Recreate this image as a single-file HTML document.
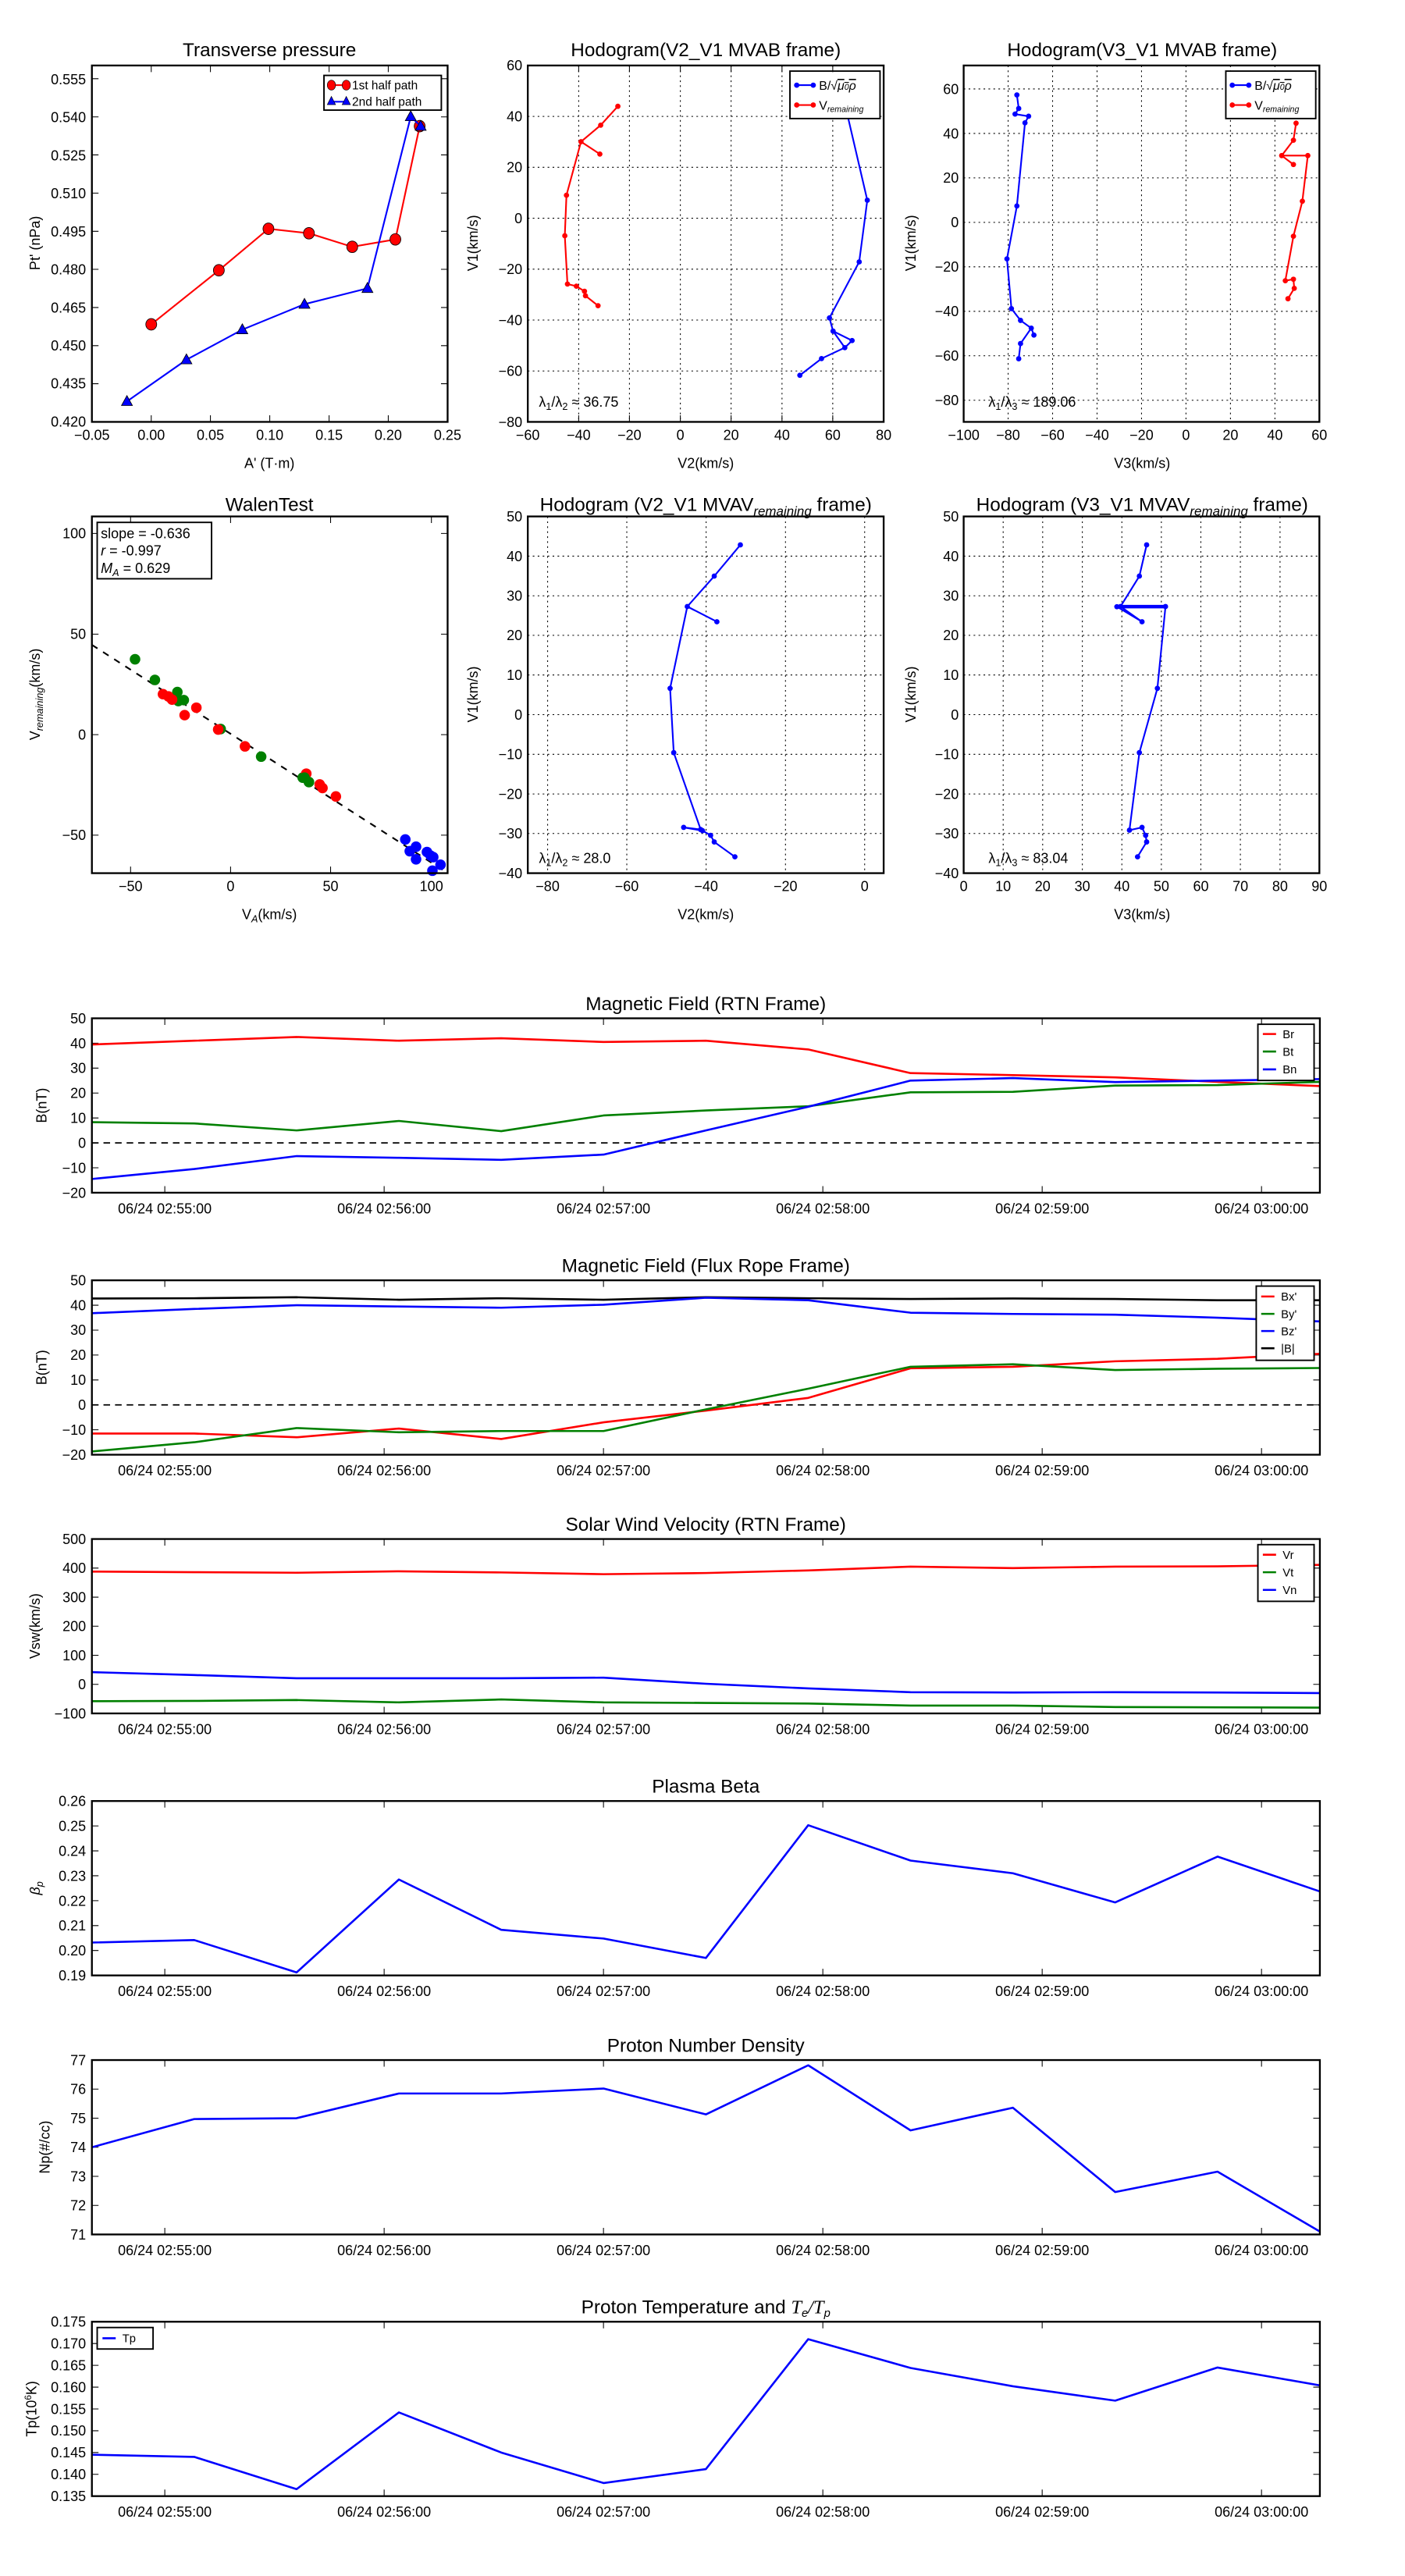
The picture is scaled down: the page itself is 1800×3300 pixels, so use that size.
<!DOCTYPE html>
<html><head><meta charset="utf-8"><style>
html,body{margin:0;padding:0;background:#fff;}
svg{display:block;font-family:"Liberation Sans",sans-serif;}
.tl{font-size:8.5px;}
.tt{font-size:11.5px;text-anchor:middle;}
.al{font-size:8.5px;text-anchor:middle;}
.fr{fill:none;stroke:#000;stroke-width:1.1;}
.tk{stroke:#000;stroke-width:0.5;fill:none;}
.gd{stroke:#000;stroke-width:0.5;stroke-dasharray:1,2;fill:none;}
.ln{fill:none;vector-effect:non-scaling-stroke;stroke-width:2.6;stroke-linejoin:round;}
.r{text-anchor:end;}
.m{text-anchor:middle;}
</style></head><body>
<svg width="1800" height="3300" viewBox="0 0 850 1558.3" xmlns="http://www.w3.org/2000/svg">
<rect x="0" y="0" width="850" height="1558.3" fill="#fff"/>

<!-- ========== P1 Transverse pressure ========== -->
<text class="tt" x="163" y="34">Transverse pressure</text>
<path class="tk" d="M91.5 255.2v-4M127.3 255.2v-4M163.2 255.2v-4M199.1 255.2v-4M234.9 255.2v-4M91.5 39.6v4M127.3 39.6v4M163.2 39.6v4M199.1 39.6v4M234.9 39.6v4
M55.6 232.1h4M55.6 209.1h4M55.6 186h4M55.6 162.9h4M55.6 139.9h4M55.6 116.8h4M55.6 93.7h4M55.6 70.7h4M55.6 47.6h4
M270.8 232.1h-4M270.8 209.1h-4M270.8 186h-4M270.8 162.9h-4M270.8 139.9h-4M270.8 116.8h-4M270.8 93.7h-4M270.8 70.7h-4M270.8 47.6h-4"/>
<g class="tl r">
<text x="52" y="258">0.420</text><text x="52" y="235">0.435</text><text x="52" y="212">0.450</text><text x="52" y="189">0.465</text><text x="52" y="166">0.480</text><text x="52" y="143">0.495</text><text x="52" y="120">0.510</text><text x="52" y="97">0.525</text><text x="52" y="74">0.540</text><text x="52" y="51">0.555</text>
</g>
<g class="tl m">
<text x="55.6" y="266">−0.05</text><text x="91.5" y="266">0.00</text><text x="127.3" y="266">0.05</text><text x="163.2" y="266">0.10</text><text x="199.1" y="266">0.15</text><text x="234.9" y="266">0.20</text><text x="270.8" y="266">0.25</text>
</g>
<text class="al" x="163" y="283">A' (T·m)</text>
<text class="al" transform="translate(24,147) rotate(-90)">Pt' (nPa)</text>
<polyline fill="none" stroke="#f00" stroke-width="1" points="91.5,196.2 132.4,163.5 162.4,138.4 186.9,141.1 213.1,149.3 239.2,144.8 253.9,76.3"/>
<g fill="#f00" stroke="#000" stroke-width="0.4">
<ellipse cx="91.5" cy="196.2" rx="3.3" ry="3.5"/><ellipse cx="132.4" cy="163.5" rx="3.3" ry="3.5"/><ellipse cx="162.4" cy="138.4" rx="3.3" ry="3.5"/><ellipse cx="186.9" cy="141.1" rx="3.3" ry="3.5"/><ellipse cx="213.1" cy="149.3" rx="3.3" ry="3.5"/><ellipse cx="239.2" cy="144.8" rx="3.3" ry="3.5"/><ellipse cx="253.9" cy="76.3" rx="3.3" ry="3.5"/>
</g>
<polyline fill="none" stroke="#00f" stroke-width="1" points="76.8,242.8 112.8,217.6 146.6,199.4 184.2,184 222.3,174.4 248.5,70.5 254.5,76.3"/>
<g fill="#00f" stroke="#000" stroke-width="0.4">
<path d="M76.8 239.3l3.3 6h-6.6z"/><path d="M112.8 214.1l3.3 6h-6.6z"/><path d="M146.6 195.9l3.3 6h-6.6z"/><path d="M184.2 180.5l3.3 6h-6.6z"/><path d="M222.3 170.9l3.3 6h-6.6z"/><path d="M248.5 67l3.3 6h-6.6z"/><path d="M254.5 72.8l3.3 6h-6.6z"/>
</g>
<rect x="196" y="45.6" width="71" height="21" fill="#fff" stroke="#000" stroke-width="0.9"/>
<line x1="199" y1="51.5" x2="211" y2="51.5" stroke="#f00" stroke-width="1"/>
<ellipse cx="200.5" cy="51.5" rx="2.5" ry="3" fill="#f00" stroke="#000" stroke-width="0.3"/><ellipse cx="209.5" cy="51.5" rx="2.5" ry="3" fill="#f00" stroke="#000" stroke-width="0.3"/>
<text x="213" y="54" style="font-size:7.3px">1st half path</text>
<line x1="199" y1="61.5" x2="211" y2="61.5" stroke="#00f" stroke-width="1"/>
<path d="M200.5 58.3l2.5 5h-5zM209.5 58.3l2.5 5h-5z" fill="#00f" stroke="#000" stroke-width="0.3"/>
<text x="213" y="64" style="font-size:7.3px">2nd half path</text>
<rect class="fr" x="55.6" y="39.6" width="215.2" height="215.6"/>

<!-- ========== P2 Hodogram V2_V1 MVAB ========== -->
<text class="tt" x="427" y="34">Hodogram(V2_V1 MVAB frame)</text>
<path class="gd" d="M350.1 39.6V255.2M380.8 39.6V255.2M411.6 39.6V255.2M442.3 39.6V255.2M473.1 39.6V255.2M503.8 39.6V255.2
M319.3 70.4H534.6M319.3 101.2H534.6M319.3 132H534.6M319.3 162.8H534.6M319.3 193.6H534.6M319.3 224.4H534.6"/>
<g class="tl r">
<text x="316" y="42.6">60</text><text x="316" y="73.4">40</text><text x="316" y="104.2">20</text><text x="316" y="135">0</text><text x="316" y="165.8">−20</text><text x="316" y="196.6">−40</text><text x="316" y="227.4">−60</text><text x="316" y="258.2">−80</text>
</g>
<g class="tl m">
<text x="319.3" y="266">−60</text><text x="350.1" y="266">−40</text><text x="380.8" y="266">−20</text><text x="411.6" y="266">0</text><text x="442.3" y="266">20</text><text x="473.1" y="266">40</text><text x="503.8" y="266">60</text><text x="534.6" y="266">80</text>
</g>
<text class="al" x="427" y="283">V2(km/s)</text>
<text class="al" transform="translate(289,147) rotate(-90)">V1(km/s)</text>
<polyline fill="none" stroke="#f00" stroke-width="1" points="373.8,64.3 363.4,75.7 351.5,85.7 362.9,93.2 351.5,85.7 342.7,118.1 341.7,142.6 343.3,171.8 348.7,173.1 353.6,176.2 354.2,178.9 361.8,184.9"/>
<g fill="#f00"><circle cx="373.8" cy="64.3" r="1.6"/><circle cx="363.4" cy="75.7" r="1.6"/><circle cx="351.5" cy="85.7" r="1.6"/><circle cx="362.9" cy="93.2" r="1.6"/><circle cx="342.7" cy="118.1" r="1.6"/><circle cx="341.7" cy="142.6" r="1.6"/><circle cx="343.3" cy="171.8" r="1.6"/><circle cx="348.7" cy="173.1" r="1.6"/><circle cx="353.6" cy="176.2" r="1.6"/><circle cx="354.2" cy="178.9" r="1.6"/><circle cx="361.8" cy="184.9" r="1.6"/></g>
<polyline fill="none" stroke="#00f" stroke-width="1" points="511.1,62.7 524.7,121.1 519.8,158.4 501.8,192.3 504,200.3 515.5,206 511.1,210.3 504,200.3 511.1,210.3 497,216.9 483.9,227"/>
<g fill="#00f"><circle cx="524.7" cy="121.1" r="1.6"/><circle cx="519.8" cy="158.4" r="1.6"/><circle cx="501.8" cy="192.3" r="1.6"/><circle cx="504" cy="200.3" r="1.6"/><circle cx="515.5" cy="206" r="1.6"/><circle cx="511.1" cy="210.3" r="1.6"/><circle cx="497" cy="216.9" r="1.6"/><circle cx="483.9" cy="227" r="1.6"/></g>
<text x="326" y="246" style="font-size:8.5px">λ<tspan style="font-size:6px" dy="2">1</tspan><tspan dy="-2">/λ</tspan><tspan style="font-size:6px" dy="2">2</tspan><tspan dy="-2"> ≈ 36.75</tspan></text>
<rect x="477.9" y="43" width="54.5" height="28.7" fill="#fff" stroke="#000" stroke-width="0.9"/>
<line x1="481.5" y1="51.5" x2="492.5" y2="51.5" stroke="#00f" stroke-width="1"/><circle cx="482" cy="51.5" r="1.6" fill="#00f"/><circle cx="492" cy="51.5" r="1.6" fill="#00f"/>
<text x="495.5" y="54.3" style="font-size:7.5px">B/√<tspan style="font-style:italic;text-decoration:overline">μ<tspan style="font-size:5px">0</tspan>ρ</tspan></text>
<line x1="481.5" y1="63.5" x2="492.5" y2="63.5" stroke="#f00" stroke-width="1"/><circle cx="482" cy="63.5" r="1.6" fill="#f00"/><circle cx="492" cy="63.5" r="1.6" fill="#f00"/>
<text x="495.5" y="66.3" style="font-size:7.5px">V<tspan style="font-size:5px;font-style:italic" dy="1.5">remaining</tspan></text>
<path class="tk" d="M350.1 255.2v-4M380.8 255.2v-4M411.6 255.2v-4M442.3 255.2v-4M473.1 255.2v-4M503.8 255.2v-4M350.1 39.6v4M380.8 39.6v4M411.6 39.6v4M442.3 39.6v4M473.1 39.6v4M503.8 39.6v4"/>
<rect class="fr" x="319.3" y="39.6" width="215.3" height="215.6"/>

<!-- ========== P3 Hodogram V3_V1 MVAB ========== -->
<text class="tt" x="691" y="34">Hodogram(V3_V1 MVAB frame)</text>
<path class="gd" d="M609.9 39.6V255.2M636.8 39.6V255.2M663.7 39.6V255.2M690.6 39.6V255.2M717.5 39.6V255.2M744.4 39.6V255.2M771.3 39.6V255.2
M583 53.8H798.2M583 80.7H798.2M583 107.6H798.2M583 134.5H798.2M583 161.4H798.2M583 188.3H798.2M583 215.2H798.2M583 242.1H798.2"/>
<g class="tl r">
<text x="580" y="56.8">60</text><text x="580" y="83.7">40</text><text x="580" y="110.6">20</text><text x="580" y="137.5">0</text><text x="580" y="164.4">−20</text><text x="580" y="191.3">−40</text><text x="580" y="218.2">−60</text><text x="580" y="245.1">−80</text>
</g>
<g class="tl m">
<text x="583" y="266">−100</text><text x="609.9" y="266">−80</text><text x="636.8" y="266">−60</text><text x="663.7" y="266">−40</text><text x="690.6" y="266">−20</text><text x="717.5" y="266">0</text><text x="744.4" y="266">20</text><text x="771.3" y="266">40</text><text x="798.2" y="266">60</text>
</g>
<text class="al" x="691" y="283">V3(km/s)</text>
<text class="al" transform="translate(554,147) rotate(-90)">V1(km/s)</text>
<polyline fill="none" stroke="#00f" stroke-width="1" points="615.2,57.4 616.3,65.6 614.1,69 622.3,70.3 620.1,74.3 615.2,124.6 609.2,156.6 611.9,186.7 617.4,193.8 623.9,198.5 625.5,202.7 623.9,198.5 617.4,207.8 616.3,217"/>
<g fill="#00f"><circle cx="615.2" cy="57.4" r="1.6"/><circle cx="616.3" cy="65.6" r="1.6"/><circle cx="614.1" cy="69" r="1.6"/><circle cx="622.3" cy="70.3" r="1.6"/><circle cx="620.1" cy="74.3" r="1.6"/><circle cx="615.2" cy="124.6" r="1.6"/><circle cx="609.2" cy="156.6" r="1.6"/><circle cx="611.9" cy="186.7" r="1.6"/><circle cx="617.4" cy="193.8" r="1.6"/><circle cx="623.9" cy="198.5" r="1.6"/><circle cx="625.5" cy="202.7" r="1.6"/><circle cx="617.4" cy="207.8" r="1.6"/><circle cx="616.3" cy="217" r="1.6"/></g>
<polyline fill="none" stroke="#f00" stroke-width="1" points="784.1,74.5 782.5,84.8 775.4,94.1 782.5,99.5 775.4,94.1 791.2,94.1 787.9,121.7 782.5,142.9 777.6,169.8 782.5,168.9 783,174.4 779.2,180.7"/>
<g fill="#f00"><circle cx="784.1" cy="74.5" r="1.6"/><circle cx="782.5" cy="84.8" r="1.6"/><circle cx="775.4" cy="94.1" r="1.6"/><circle cx="782.5" cy="99.5" r="1.6"/><circle cx="791.2" cy="94.1" r="1.6"/><circle cx="787.9" cy="121.7" r="1.6"/><circle cx="782.5" cy="142.9" r="1.6"/><circle cx="777.6" cy="169.8" r="1.6"/><circle cx="782.5" cy="168.9" r="1.6"/><circle cx="783" cy="174.4" r="1.6"/><circle cx="779.2" cy="180.7" r="1.6"/></g>
<text x="598" y="246" style="font-size:8.5px">λ<tspan style="font-size:6px" dy="2">1</tspan><tspan dy="-2">/λ</tspan><tspan style="font-size:6px" dy="2">3</tspan><tspan dy="-2"> ≈ 189.06</tspan></text>
<rect x="741.6" y="43" width="54.4" height="28.7" fill="#fff" stroke="#000" stroke-width="0.9"/>
<line x1="745" y1="51.5" x2="756" y2="51.5" stroke="#00f" stroke-width="1"/><circle cx="745.5" cy="51.5" r="1.6" fill="#00f"/><circle cx="755.5" cy="51.5" r="1.6" fill="#00f"/>
<text x="759" y="54.3" style="font-size:7.5px">B/√<tspan style="font-style:italic;text-decoration:overline">μ<tspan style="font-size:5px">0</tspan>ρ</tspan></text>
<line x1="745" y1="63.5" x2="756" y2="63.5" stroke="#f00" stroke-width="1"/><circle cx="745.5" cy="63.5" r="1.6" fill="#f00"/><circle cx="755.5" cy="63.5" r="1.6" fill="#f00"/>
<text x="759" y="66.3" style="font-size:7.5px">V<tspan style="font-size:5px;font-style:italic" dy="1.5">remaining</tspan></text>
<rect class="fr" x="583" y="39.6" width="215.2" height="215.6"/>

<!-- ========== P4 WalenTest ========== -->
<text class="tt" x="163" y="309">WalenTest</text>
<path class="tk" d="M79 528.2v-4M139.5 528.2v-4M200 528.2v-4M261 528.2v-4M79 312.4v4M139.5 312.4v4M200 312.4v4M261 312.4v4
M55.6 322.7h4M55.6 383.6h4M55.6 444.4h4M55.6 505.2h4M270.8 322.7h-4M270.8 383.6h-4M270.8 444.4h-4M270.8 505.2h-4"/>
<g class="tl r"><text x="52" y="325.7">100</text><text x="52" y="386.6">50</text><text x="52" y="447.4">0</text><text x="52" y="508.2">−50</text></g>
<g class="tl m"><text x="79" y="539">−50</text><text x="139.5" y="539">0</text><text x="200" y="539">50</text><text x="261" y="539">100</text></g>
<text class="al" x="163" y="556">V<tspan style="font-size:6px;font-style:italic" dy="2">A</tspan><tspan dy="-2">(km/s)</tspan></text>
<text class="al" transform="translate(24,420) rotate(-90)">V<tspan style="font-size:6px;font-style:italic" dy="2">remaining</tspan><tspan dy="-2">(km/s)</tspan></text>
<line x1="55.6" y1="390.1" x2="270.8" y2="528.1" stroke="#000" stroke-width="1" stroke-dasharray="4,4"/>
<g fill="#008000"><circle cx="81.7" cy="398.8" r="3.2"/><circle cx="93.7" cy="411.3" r="3.2"/><circle cx="107.3" cy="418.6" r="3.2"/><circle cx="107.9" cy="424.1" r="3.2"/><circle cx="111.2" cy="423.5" r="3.2"/><circle cx="133.5" cy="441" r="3.2"/><circle cx="158" cy="457.7" r="3.2"/><circle cx="183.1" cy="470.4" r="3.2"/><circle cx="186.9" cy="473.1" r="3.2"/></g>
<g fill="#f00"><circle cx="98.6" cy="419.9" r="3.2"/><circle cx="101.9" cy="421.3" r="3.2"/><circle cx="104.1" cy="423.2" r="3.2"/><circle cx="118.8" cy="428.1" r="3.2"/><circle cx="111.7" cy="432.6" r="3.2"/><circle cx="132" cy="441.3" r="3.2"/><circle cx="148.2" cy="451.5" r="3.2"/><circle cx="185.3" cy="468" r="3.2"/><circle cx="193.4" cy="474.5" r="3.2"/><circle cx="195.1" cy="476.7" r="3.2"/><circle cx="203.2" cy="481.8" r="3.2"/></g>
<g fill="#008000"><circle cx="184.2" cy="470.4" r="3.2"/><circle cx="186.9" cy="473.1" r="3.2"/></g>
<g fill="#00f"><circle cx="245.2" cy="507.8" r="3.2"/><circle cx="247.9" cy="514.9" r="3.2"/><circle cx="251.7" cy="512.2" r="3.2"/><circle cx="251.7" cy="519.8" r="3.2"/><circle cx="258.3" cy="515.4" r="3.2"/><circle cx="260.5" cy="517.6" r="3.2"/><circle cx="262.1" cy="518.5" r="3.2"/><circle cx="266.5" cy="523.1" r="3.2"/><circle cx="261.6" cy="526.7" r="3.2"/></g>
<rect x="58.8" y="316" width="69.2" height="34.1" fill="#fff" stroke="#000" stroke-width="0.9"/>
<text x="61" y="325.5" style="font-size:8.5px">slope = -0.636</text>
<text x="61" y="336" style="font-size:8.5px"><tspan style="font-style:italic">r</tspan> = -0.997</text>
<text x="61" y="346.5" style="font-size:8.5px"><tspan style="font-style:italic">M</tspan><tspan style="font-size:6px;font-style:italic" dy="2">A</tspan><tspan dy="-2"> = 0.629</tspan></text>
<rect class="fr" x="55.6" y="312.4" width="215.2" height="215.8"/>

<!-- ========== P5 Hodogram V2_V1 MVAV ========== -->
<text class="tt" x="427" y="309">Hodogram (V2_V1 MVAV<tspan style="font-size:8px;font-style:italic" dy="3">remaining</tspan><tspan dy="-3"> frame)</tspan></text>
<path class="gd" d="M331.3 312.4V528.2M379.2 312.4V528.2M427.2 312.4V528.2M475.2 312.4V528.2M523.1 312.4V528.2
M319.3 336.4H534.6M319.3 360.4H534.6M319.3 384.3H534.6M319.3 408.3H534.6M319.3 432.3H534.6M319.3 456.3H534.6M319.3 480.3H534.6M319.3 504.2H534.6"/>
<g class="tl r"><text x="316" y="315.4">50</text><text x="316" y="339.4">40</text><text x="316" y="363.4">30</text><text x="316" y="387.3">20</text><text x="316" y="411.3">10</text><text x="316" y="435.3">0</text><text x="316" y="459.3">−10</text><text x="316" y="483.3">−20</text><text x="316" y="507.2">−30</text><text x="316" y="531.2">−40</text></g>
<g class="tl m"><text x="331.3" y="539">−80</text><text x="379.2" y="539">−60</text><text x="427.2" y="539">−40</text><text x="475.2" y="539">−20</text><text x="523.1" y="539">0</text></g>
<text class="al" x="427" y="556">V2(km/s)</text>
<text class="al" transform="translate(289,420) rotate(-90)">V1(km/s)</text>
<polyline fill="none" stroke="#00f" stroke-width="1" points="447.9,329.6 432.1,348.5 415.8,366.9 433.7,376.1 415.8,366.9 405.4,416.4 407.6,455.3 423.9,501.8 413.6,500.5 425,502.5 429.9,505.3 432.1,509.3 444.6,518.3"/>
<g fill="#00f"><circle cx="447.9" cy="329.6" r="1.6"/><circle cx="432.1" cy="348.5" r="1.6"/><circle cx="415.8" cy="366.9" r="1.6"/><circle cx="433.7" cy="376.1" r="1.6"/><circle cx="405.4" cy="416.4" r="1.6"/><circle cx="407.6" cy="455.3" r="1.6"/><circle cx="423.9" cy="501.8" r="1.6"/><circle cx="413.6" cy="500.5" r="1.6"/><circle cx="425" cy="502.5" r="1.6"/><circle cx="429.9" cy="505.3" r="1.6"/><circle cx="432.1" cy="509.3" r="1.6"/><circle cx="444.6" cy="518.3" r="1.6"/></g>
<text x="326" y="522" style="font-size:8.5px">λ<tspan style="font-size:6px" dy="2">1</tspan><tspan dy="-2">/λ</tspan><tspan style="font-size:6px" dy="2">2</tspan><tspan dy="-2"> ≈ 28.0</tspan></text>
<rect class="fr" x="319.3" y="312.4" width="215.3" height="215.8"/>

<!-- ========== P6 Hodogram V3_V1 MVAV ========== -->
<text class="tt" x="691" y="309">Hodogram (V3_V1 MVAV<tspan style="font-size:8px;font-style:italic" dy="3">remaining</tspan><tspan dy="-3"> frame)</tspan></text>
<path class="gd" d="M606.9 312.4V528.2M630.8 312.4V528.2M654.8 312.4V528.2M678.7 312.4V528.2M702.6 312.4V528.2M726.5 312.4V528.2M750.4 312.4V528.2M774.4 312.4V528.2
M583 336.4H798.2M583 360.4H798.2M583 384.3H798.2M583 408.3H798.2M583 432.3H798.2M583 456.3H798.2M583 480.3H798.2M583 504.2H798.2"/>
<g class="tl r"><text x="580" y="315.4">50</text><text x="580" y="339.4">40</text><text x="580" y="363.4">30</text><text x="580" y="387.3">20</text><text x="580" y="411.3">10</text><text x="580" y="435.3">0</text><text x="580" y="459.3">−10</text><text x="580" y="483.3">−20</text><text x="580" y="507.2">−30</text><text x="580" y="531.2">−40</text></g>
<g class="tl m"><text x="583" y="539">0</text><text x="606.9" y="539">10</text><text x="630.8" y="539">20</text><text x="654.8" y="539">30</text><text x="678.7" y="539">40</text><text x="702.6" y="539">50</text><text x="726.5" y="539">60</text><text x="750.4" y="539">70</text><text x="774.4" y="539">80</text><text x="798.2" y="539">90</text></g>
<text class="al" x="691" y="556">V3(km/s)</text>
<text class="al" transform="translate(554,420) rotate(-90)">V1(km/s)</text>
<polyline fill="none" stroke="#00f" stroke-width="1" points="693.7,329.6 689.3,348.5 677.9,366.9 690.9,376.1 675.7,367 705.1,366.9 700.2,416.4 689.3,455.3 683.3,502.2 690.9,500.5 693.1,505.3 693.7,509.3 688.2,518.3"/>
<path d="M675.7 366.3H705.1M675.7 367.6H705.1" stroke="#00f" stroke-width="0.8"/>
<g fill="#00f"><circle cx="693.7" cy="329.6" r="1.6"/><circle cx="689.3" cy="348.5" r="1.6"/><circle cx="677.9" cy="366.9" r="1.6"/><circle cx="690.9" cy="376.1" r="1.6"/><circle cx="675.7" cy="367" r="1.6"/><circle cx="705.1" cy="366.9" r="1.6"/><circle cx="700.2" cy="416.4" r="1.6"/><circle cx="689.3" cy="455.3" r="1.6"/><circle cx="683.3" cy="502.2" r="1.6"/><circle cx="690.9" cy="500.5" r="1.6"/><circle cx="693.1" cy="505.3" r="1.6"/><circle cx="693.7" cy="509.3" r="1.6"/><circle cx="688.2" cy="518.3" r="1.6"/></g>
<text x="598" y="522" style="font-size:8.5px">λ<tspan style="font-size:6px" dy="2">1</tspan><tspan dy="-2">/λ</tspan><tspan style="font-size:6px" dy="2">3</tspan><tspan dy="-2"> ≈ 83.04</tspan></text>
<rect class="fr" x="583" y="312.4" width="215.2" height="215.8"/>

<defs>
<path id="xt" d="M99.7 105.5v-4M232.4 105.5v-4M365.1 105.5v-4M497.8 105.5v-4M630.5 105.5v-4M763.2 105.5v-4M99.7 0v4M232.4 0v4M365.1 0v4M497.8 0v4M630.5 0v4M763.2 0v4" stroke="#000" stroke-width="0.5" fill="none"/>
</defs>

<!-- ========== T1 Magnetic Field RTN ========== -->
<g transform="translate(0,616)">
<text class="tt" x="427" y="-5">Magnetic Field (RTN Frame)</text>
<use href="#xt"/>
<path class="tk" d="M55.6 15.07h4M55.6 30.14h4M55.6 45.21h4M55.6 60.29h4M55.6 75.36h4M55.6 90.43h4M798.5 15.07h-4M798.5 30.14h-4M798.5 45.21h-4M798.5 60.29h-4M798.5 75.36h-4M798.5 90.43h-4"/>
<g class="tl r"><text x="52" y="3">50</text><text x="52" y="18.1">40</text><text x="52" y="33.1">30</text><text x="52" y="48.2">20</text><text x="52" y="63.3">10</text><text x="52" y="78.4">0</text><text x="52" y="93.4">−10</text><text x="52" y="108.5">−20</text></g>
<g class="tl m"><text x="99.7" y="118">06/24 02:55:00</text><text x="232.4" y="118">06/24 02:56:00</text><text x="365.1" y="118">06/24 02:57:00</text><text x="497.8" y="118">06/24 02:58:00</text><text x="630.5" y="118">06/24 02:59:00</text><text x="763.2" y="118">06/24 03:00:00</text></g>
<text class="al" transform="translate(28,52.7) rotate(-90)">B(nT)</text>
<line x1="55.6" y1="75.36" x2="798.5" y2="75.36" stroke="#000" stroke-width="0.8" stroke-dasharray="4,3"/>
<svg x="55.6" y="0" width="742.9" height="105.5" viewBox="0 -50 12 70" preserveAspectRatio="none">
<polyline class="ln" stroke="#f00" points="0,-39.5 1,-41 2,-42.5 3,-41 4,-42 5,-40.5 6,-41 7,-37.5 8,-28 9,-27.2 10,-26.3 11,-24.5 12,-22.8"/>
<polyline class="ln" stroke="#008000" points="0,-8.3 1,-7.8 2,-5 3,-8.8 4,-4.7 5,-11 6,-13 7,-14.7 8,-20.3 9,-20.5 10,-23 11,-23.2 12,-24.5"/>
<polyline class="ln" stroke="#00f" points="0,14.5 1,10.5 2,5.3 3,6 4,6.8 5,4.7 6,-5 7,-14.5 8,-25 9,-26 10,-24.4 11,-25 12,-25.6"/>
</svg>
<rect x="761" y="3.6" width="34" height="34" fill="#fff" stroke="#000" stroke-width="0.9"/>
<line x1="764" y1="9.5" x2="772" y2="9.5" stroke="#f00" stroke-width="1.2"/><text x="776" y="12" style="font-size:7px">Br</text>
<line x1="764" y1="20.1" x2="772" y2="20.1" stroke="#008000" stroke-width="1.2"/><text x="776" y="22.6" style="font-size:7px">Bt</text>
<line x1="764" y1="30.9" x2="772" y2="30.9" stroke="#00f" stroke-width="1.2"/><text x="776" y="33.4" style="font-size:7px">Bn</text>
<rect class="fr" x="55.6" y="0" width="742.9" height="105.5"/>
</g>

<!-- ========== T2 Magnetic Field Flux Rope ========== -->
<g transform="translate(0,774.5)">
<text class="tt" x="427" y="-5">Magnetic Field (Flux Rope Frame)</text>
<use href="#xt"/>
<path class="tk" d="M55.6 15.07h4M55.6 30.14h4M55.6 45.21h4M55.6 60.29h4M55.6 75.36h4M55.6 90.43h4M798.5 15.07h-4M798.5 30.14h-4M798.5 45.21h-4M798.5 60.29h-4M798.5 75.36h-4M798.5 90.43h-4"/>
<g class="tl r"><text x="52" y="3">50</text><text x="52" y="18.1">40</text><text x="52" y="33.1">30</text><text x="52" y="48.2">20</text><text x="52" y="63.3">10</text><text x="52" y="78.4">0</text><text x="52" y="93.4">−10</text><text x="52" y="108.5">−20</text></g>
<g class="tl m"><text x="99.7" y="118">06/24 02:55:00</text><text x="232.4" y="118">06/24 02:56:00</text><text x="365.1" y="118">06/24 02:57:00</text><text x="497.8" y="118">06/24 02:58:00</text><text x="630.5" y="118">06/24 02:59:00</text><text x="763.2" y="118">06/24 03:00:00</text></g>
<text class="al" transform="translate(28,52.7) rotate(-90)">B(nT)</text>
<line x1="55.6" y1="75.36" x2="798.5" y2="75.36" stroke="#000" stroke-width="0.8" stroke-dasharray="4,3"/>
<svg x="55.6" y="0" width="742.9" height="105.5" viewBox="0 -50 12 70" preserveAspectRatio="none">
<polyline class="ln" stroke="#000" points="0,-42.7 1,-42.8 2,-43.2 3,-42.2 4,-42.8 5,-42.2 6,-43.2 7,-42.8 8,-42.5 9,-42.7 10,-42.5 11,-42 12,-42"/>
<polyline class="ln" stroke="#00f" points="0,-36.8 1,-38.5 2,-40 3,-39.5 4,-39 5,-40.2 6,-43 7,-42 8,-37 9,-36.5 10,-36.2 11,-35 12,-33.5"/>
<polyline class="ln" stroke="#f00" points="0,11.5 1,11.5 2,13 3,9.5 4,13.7 5,7 6,2.3 7,-2.8 8,-14.7 9,-15.3 10,-17.5 11,-18.5 12,-20.5"/>
<polyline class="ln" stroke="#008000" points="0,18.7 1,15 2,9.3 3,11 4,10.5 5,10.5 6,1.8 7,-6.5 8,-15.3 9,-16.3 10,-14 11,-14.5 12,-14.8"/>
</svg>
<rect x="760" y="3.5" width="35" height="44.9" fill="#fff" stroke="#000" stroke-width="0.9"/>
<line x1="763" y1="9.8" x2="771" y2="9.8" stroke="#f00" stroke-width="1.2"/><text x="775" y="12.3" style="font-size:7px">Bx'</text>
<line x1="763" y1="20.3" x2="771" y2="20.3" stroke="#008000" stroke-width="1.2"/><text x="775" y="22.8" style="font-size:7px">By'</text>
<line x1="763" y1="30.7" x2="771" y2="30.7" stroke="#00f" stroke-width="1.2"/><text x="775" y="33.2" style="font-size:7px">Bz'</text>
<line x1="763" y1="41.1" x2="771" y2="41.1" stroke="#000" stroke-width="1.2"/><text x="775" y="43.6" style="font-size:7px">|B|</text>
<rect class="fr" x="55.6" y="0" width="742.9" height="105.5"/>
</g>

<!-- ========== T3 Solar Wind Velocity ========== -->
<g transform="translate(0,931)">
<text class="tt" x="427" y="-5">Solar Wind Velocity (RTN Frame)</text>
<use href="#xt"/>
<path class="tk" d="M55.6 17.58h4M55.6 35.17h4M55.6 52.75h4M55.6 70.33h4M55.6 87.92h4M798.5 17.58h-4M798.5 35.17h-4M798.5 52.75h-4M798.5 70.33h-4M798.5 87.92h-4"/>
<g class="tl r"><text x="52" y="3">500</text><text x="52" y="20.6">400</text><text x="52" y="38.2">300</text><text x="52" y="55.8">200</text><text x="52" y="73.3">100</text><text x="52" y="90.9">0</text><text x="52" y="108.5">−100</text></g>
<g class="tl m"><text x="99.7" y="118">06/24 02:55:00</text><text x="232.4" y="118">06/24 02:56:00</text><text x="365.1" y="118">06/24 02:57:00</text><text x="497.8" y="118">06/24 02:58:00</text><text x="630.5" y="118">06/24 02:59:00</text><text x="763.2" y="118">06/24 03:00:00</text></g>
<text class="al" transform="translate(24,52.7) rotate(-90)">Vsw(km/s)</text>
<svg x="55.6" y="0" width="742.9" height="105.5" viewBox="0 -500 12 600" preserveAspectRatio="none">
<polyline class="ln" stroke="#f00" points="0,-388 1,-386 2,-384 3,-389 4,-385 5,-379 6,-383 7,-392 8,-405 9,-400 10,-405 11,-406 12,-411"/>
<polyline class="ln" stroke="#008000" points="0,58 1,57 2,54 3,62 4,52 5,62 6,64 7,66 8,73 9,73 10,78 11,79 12,80"/>
<polyline class="ln" stroke="#00f" points="0,-42 1,-32 2,-21 3,-21 4,-21 5,-23 6,-2 7,14 8,27 9,28 10,27 11,28 12,30"/>
</svg>
<rect x="761" y="3.4" width="34" height="34.3" fill="#fff" stroke="#000" stroke-width="0.9"/>
<line x1="764" y1="9.5" x2="772" y2="9.5" stroke="#f00" stroke-width="1.2"/><text x="776" y="12" style="font-size:7px">Vr</text>
<line x1="764" y1="20.1" x2="772" y2="20.1" stroke="#008000" stroke-width="1.2"/><text x="776" y="22.6" style="font-size:7px">Vt</text>
<line x1="764" y1="30.8" x2="772" y2="30.8" stroke="#00f" stroke-width="1.2"/><text x="776" y="33.3" style="font-size:7px">Vn</text>
<rect class="fr" x="55.6" y="0" width="742.9" height="105.5"/>
</g>

<!-- ========== T4 Plasma Beta ========== -->
<g transform="translate(0,1089.5)">
<text class="tt" x="427" y="-5">Plasma Beta</text>
<use href="#xt"/>
<path class="tk" d="M55.6 15.07h4M55.6 30.14h4M55.6 45.21h4M55.6 60.29h4M55.6 75.36h4M55.6 90.43h4M798.5 15.07h-4M798.5 30.14h-4M798.5 45.21h-4M798.5 60.29h-4M798.5 75.36h-4M798.5 90.43h-4"/>
<g class="tl r"><text x="52" y="3">0.26</text><text x="52" y="18.1">0.25</text><text x="52" y="33.1">0.24</text><text x="52" y="48.2">0.23</text><text x="52" y="63.3">0.22</text><text x="52" y="78.4">0.21</text><text x="52" y="93.4">0.20</text><text x="52" y="108.5">0.19</text></g>
<g class="tl m"><text x="99.7" y="118">06/24 02:55:00</text><text x="232.4" y="118">06/24 02:56:00</text><text x="365.1" y="118">06/24 02:57:00</text><text x="497.8" y="118">06/24 02:58:00</text><text x="630.5" y="118">06/24 02:59:00</text><text x="763.2" y="118">06/24 03:00:00</text></g>
<text class="al" transform="translate(24,52.7) rotate(-90)" style="font-style:italic">β<tspan style="font-size:6px" dy="2">p</tspan></text>
<svg x="55.6" y="0" width="742.9" height="105.5" viewBox="0 -0.26 12 0.07" preserveAspectRatio="none">
<polyline class="ln" stroke="#00f" points="0,-0.2032 1,-0.2042 2,-0.1912 3,-0.2285 4,-0.2083 5,-0.2048 6,-0.1970 7,-0.2503 8,-0.2361 9,-0.2310 10,-0.2193 11,-0.2377 12,-0.2237"/>
</svg>
<rect class="fr" x="55.6" y="0" width="742.9" height="105.5"/>
</g>

<!-- ========== T5 Proton Number Density ========== -->
<g transform="translate(0,1246.2)">
<text class="tt" x="427" y="-5">Proton Number Density</text>
<use href="#xt"/>
<path class="tk" d="M55.6 17.58h4M55.6 35.17h4M55.6 52.75h4M55.6 70.33h4M55.6 87.92h4M798.5 17.58h-4M798.5 35.17h-4M798.5 52.75h-4M798.5 70.33h-4M798.5 87.92h-4"/>
<g class="tl r"><text x="52" y="3">77</text><text x="52" y="20.6">76</text><text x="52" y="38.2">75</text><text x="52" y="55.8">74</text><text x="52" y="73.3">73</text><text x="52" y="90.9">72</text><text x="52" y="108.5">71</text></g>
<g class="tl m"><text x="99.7" y="118">06/24 02:55:00</text><text x="232.4" y="118">06/24 02:56:00</text><text x="365.1" y="118">06/24 02:57:00</text><text x="497.8" y="118">06/24 02:58:00</text><text x="630.5" y="118">06/24 02:59:00</text><text x="763.2" y="118">06/24 03:00:00</text></g>
<text class="al" transform="translate(30,52.7) rotate(-90)">Np(#/cc)</text>
<svg x="55.6" y="0" width="742.9" height="105.5" viewBox="0 -77 12 6" preserveAspectRatio="none">
<polyline class="ln" stroke="#00f" points="0,-74 1,-74.97 2,-75 3,-75.85 4,-75.85 5,-76.02 6,-75.13 7,-76.82 8,-74.58 9,-75.36 10,-72.46 11,-73.16 12,-71.1"/>
</svg>
<rect class="fr" x="55.6" y="0" width="742.9" height="105.5"/>
</g>

<!-- ========== T6 Proton Temperature ========== -->
<g transform="translate(0,1404.5)">
<text class="tt" x="427" y="-5">Proton Temperature and <tspan style="font-family:'Liberation Serif',serif;font-style:italic">T</tspan><tspan style="font-size:7px;font-style:italic" dy="2">e</tspan><tspan dy="-2" style="font-family:'Liberation Serif',serif;font-style:italic">/T</tspan><tspan style="font-size:7px;font-style:italic" dy="2">p</tspan></text>
<use href="#xt"/>
<path class="tk" d="M55.6 13.19h4M55.6 26.38h4M55.6 39.56h4M55.6 52.75h4M55.6 65.94h4M55.6 79.13h4M55.6 92.31h4M798.5 13.19h-4M798.5 26.38h-4M798.5 39.56h-4M798.5 52.75h-4M798.5 65.94h-4M798.5 79.13h-4M798.5 92.31h-4"/>
<g class="tl r"><text x="52" y="3">0.175</text><text x="52" y="16.2">0.170</text><text x="52" y="29.4">0.165</text><text x="52" y="42.6">0.160</text><text x="52" y="55.8">0.155</text><text x="52" y="68.9">0.150</text><text x="52" y="82.1">0.145</text><text x="52" y="95.3">0.140</text><text x="52" y="108.5">0.135</text></g>
<g class="tl m"><text x="99.7" y="118">06/24 02:55:00</text><text x="232.4" y="118">06/24 02:56:00</text><text x="365.1" y="118">06/24 02:57:00</text><text x="497.8" y="118">06/24 02:58:00</text><text x="630.5" y="118">06/24 02:59:00</text><text x="763.2" y="118">06/24 03:00:00</text></g>
<text class="al" transform="translate(22,52.7) rotate(-90)">Tp(10<tspan style="font-size:5.5px" dy="-3">6</tspan><tspan dy="3">K)</tspan></text>
<svg x="55.6" y="0" width="742.9" height="105.5" viewBox="0 -0.175 12 0.04" preserveAspectRatio="none">
<polyline class="ln" stroke="#00f" points="0,-0.1445 1,-0.1440 2,-0.1366 3,-0.1542 4,-0.1450 5,-0.1380 6,-0.1412 7,-0.1710 8,-0.1644 9,-0.1602 10,-0.1569 11,-0.1645 12,-0.1604"/>
</svg>
<rect x="58.8" y="3.5" width="33.8" height="13" fill="#fff" stroke="#000" stroke-width="0.9"/>
<line x1="62" y1="10" x2="70" y2="10" stroke="#00f" stroke-width="1.2"/><text x="74" y="12.5" style="font-size:7px">Tp</text>
<rect class="fr" x="55.6" y="0" width="742.9" height="105.5"/>
</g>
</svg>
</body></html>
